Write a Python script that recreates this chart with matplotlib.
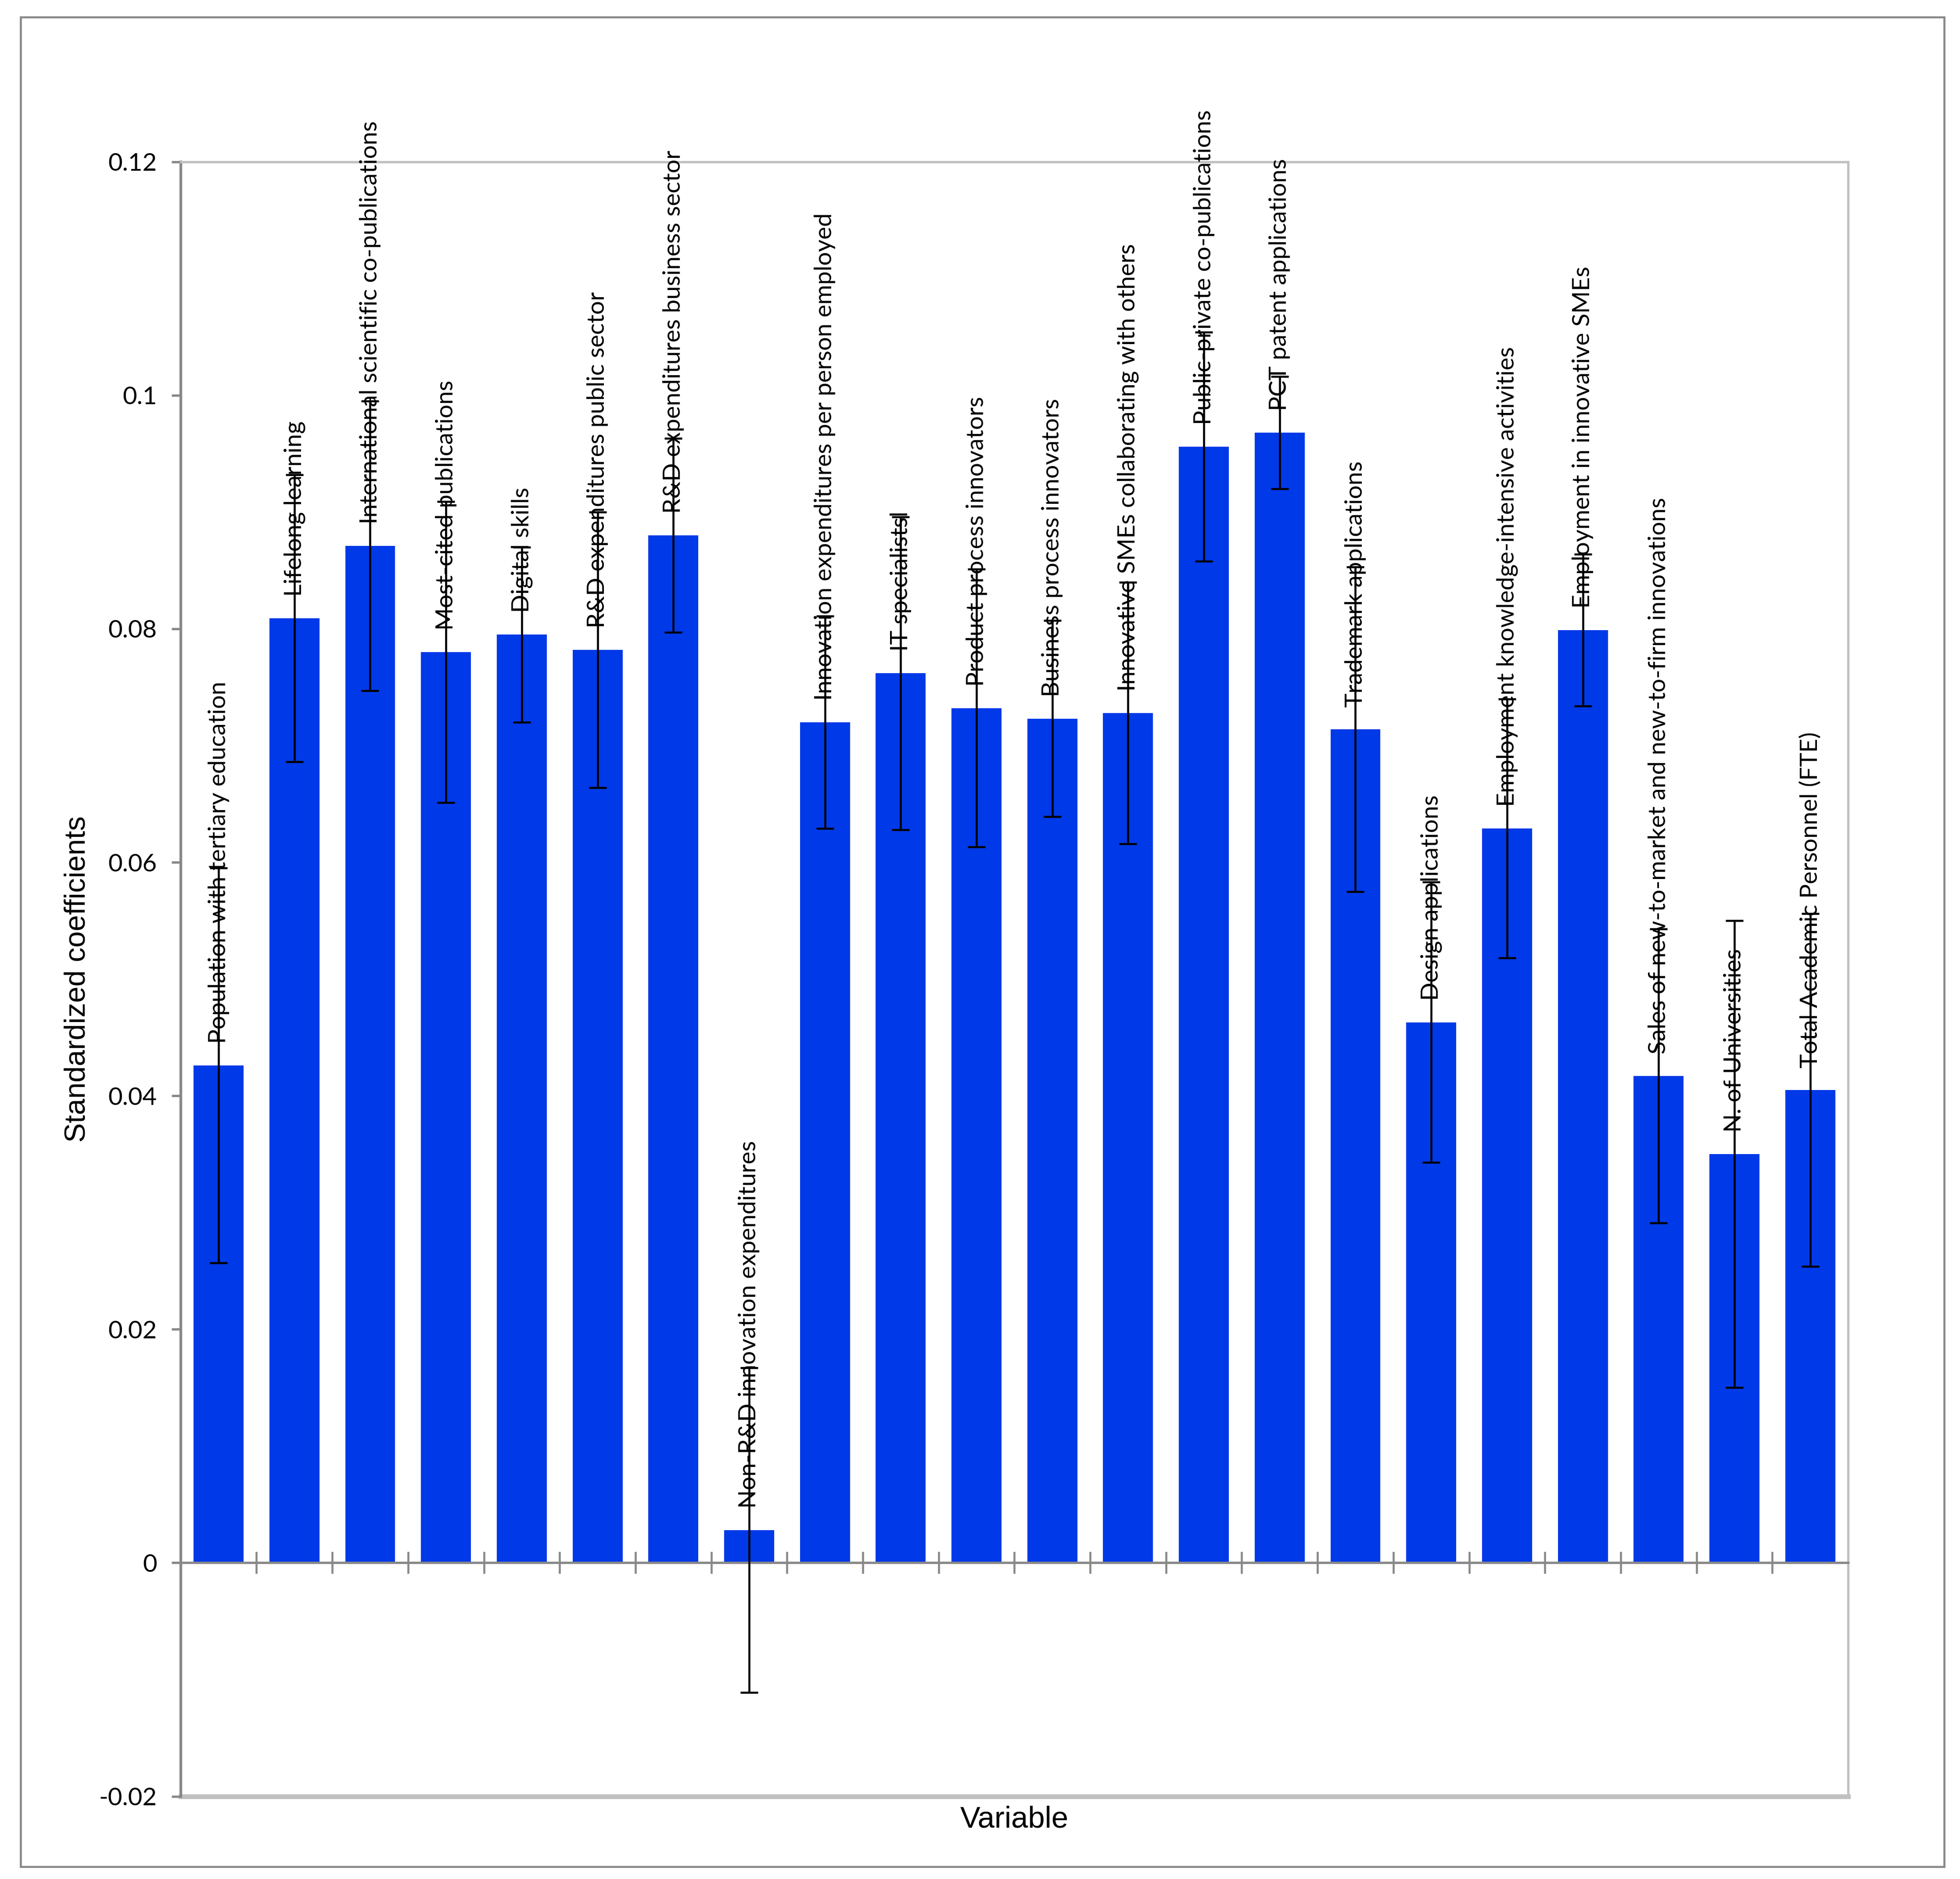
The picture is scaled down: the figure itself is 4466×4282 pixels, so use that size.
import matplotlib
matplotlib.use("Agg")
import matplotlib.pyplot as plt
from matplotlib.patches import Rectangle

variables = [
    "Population with tertiary education",
    "Lifelong learning",
    "International scientific co-publications",
    "Most-cited publications",
    "Digital skills",
    "R&D expenditures public sector",
    "R&D expenditures business sector",
    "Non-R&D innovation expenditures",
    "Innovation expenditures per person employed",
    "IT specialistsl",
    "Product process innovators",
    "Business process innovators",
    "Innovative SMEs collaborating with others",
    "Public-private co-publications",
    "PCT patent applications",
    "Trademark applications",
    "Design applications",
    "Employment knowledge-intensive activities",
    "Employment in innovative SMEs",
    "Sales of new-to-market and new-to-firm innovations",
    "N. of Universities",
    "Total Academic Personnel (FTE)",
]
coefs = [0.0426, 0.0809, 0.0871, 0.0780, 0.0795, 0.0782, 0.0880, 0.0028,
         0.0720, 0.0762, 0.0732, 0.0723, 0.0728, 0.0956, 0.0968, 0.0714,
         0.0463, 0.0629, 0.0799, 0.0417, 0.0350, 0.0405]
errors = [0.0169, 0.0123, 0.0124, 0.0129, 0.0075, 0.0118, 0.0083, 0.0139,
          0.0091, 0.0134, 0.0119, 0.0084, 0.0112, 0.0098, 0.0048, 0.0139,
          0.0120, 0.0111, 0.0065, 0.0126, 0.0200, 0.0151]
yticks = [-0.02, 0, 0.02, 0.04, 0.06, 0.08, 0.1, 0.12]
ytick_labels = ["-0.02", "0", "0.02", "0.04", "0.06", "0.08", "0.1", "0.12"]

dark_grey = "#888888"
light_grey = "#c0c0c0"
bar_blue = "#0039e8"
label_font = ["Lato", "DejaVu Sans"]

fig = plt.figure(figsize=(4466 / 300, 4282 / 300), dpi=300)
fig.patches.append(Rectangle((0.0105, 0.0065), 0.9815, 0.9845, transform=fig.transFigure,
                             fill=False, edgecolor=dark_grey, linewidth=1.1))

ax = fig.add_axes([0.0922, 0.044, 0.9429 - 0.0922, 0.9139 - 0.044])
x = list(range(len(variables)))
ax.bar(x, coefs, width=0.66, color=bar_blue, zorder=2)
ax.errorbar(x, coefs, yerr=errors, fmt="none", ecolor="black", elinewidth=1.1,
            capsize=4.8, capthick=1.1, zorder=4)

for xi, val, name in zip(x, coefs, variables):
    ax.annotate(name, (xi, val), xytext=(0, 12), textcoords="offset points",
                rotation=90, ha="center", va="bottom", fontsize=13.2,
                family=label_font, zorder=3, annotation_clip=False)

ax.set_xlim(-0.5, len(variables) - 0.5)
ax.set_ylim(-0.02, 0.12)
ax.set_yticks(yticks)
ax.set_yticklabels(ytick_labels, family=label_font, fontsize=13.5)
ax.tick_params(axis="y", direction="out", length=5, width=1.3, color=dark_grey, pad=8)

ax.set_xticks([i - 0.5 for i in range(len(variables) + 1)])
ax.set_xticklabels([])
ax.tick_params(axis="x", direction="inout", length=12, width=1.1, color=dark_grey)

ax.spines["bottom"].set_position(("data", 0))
ax.spines["bottom"].set_color(dark_grey)
ax.spines["bottom"].set_linewidth(1.3)
ax.spines["bottom"].set_zorder(3)
ax.spines["left"].set_color(dark_grey)
ax.spines["left"].set_linewidth(1.5)
for side in ["top", "right"]:
    ax.spines[side].set_color(light_grey)
    ax.spines[side].set_linewidth(1.3)
ax.axhline(-0.02, color=light_grey, linewidth=2.6, clip_on=False, zorder=1)

fig.text(0.5176, 0.0316, "Variable", ha="center", va="center",
         family="Liberation Sans", fontsize=16.5)
fig.text(0.0396, 0.479, "Standardized coefficients", ha="center", va="center",
         rotation=90, family="Liberation Sans", fontsize=16)

fig.savefig("out.png", dpi=300)
